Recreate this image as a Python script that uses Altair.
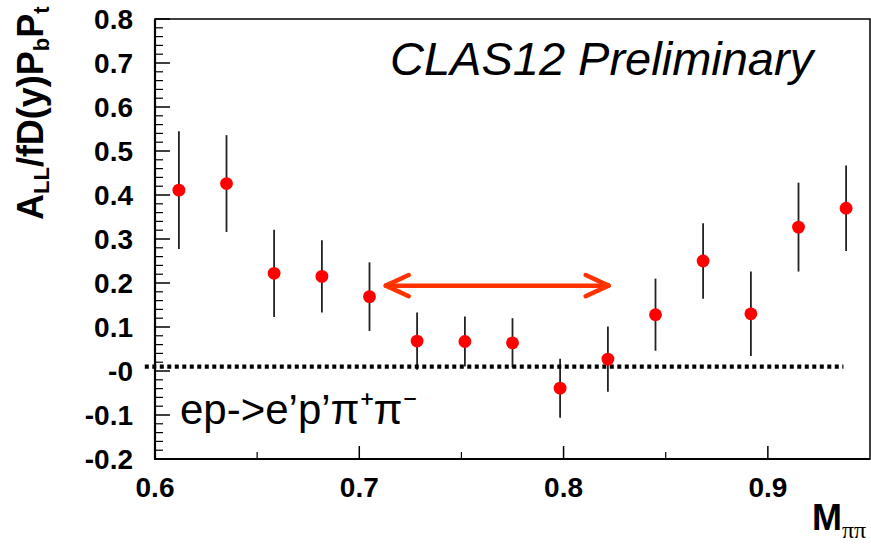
import altair as alt
import pandas as pd

# ---- data ----
m_pipi = [0.6117, 0.6350, 0.6583, 0.6817, 0.7050, 0.7283, 0.7517, 0.7750,
          0.7983, 0.8217, 0.8450, 0.8683, 0.8917, 0.9150, 0.9383]
a_ll = [0.411, 0.426, 0.222, 0.215, 0.169, 0.068, 0.067, 0.064,
        -0.039, 0.027, 0.128, 0.250, 0.130, 0.327, 0.370]
a_err = [0.134, 0.110, 0.099, 0.082, 0.078, 0.065, 0.057, 0.056,
         0.067, 0.074, 0.082, 0.086, 0.096, 0.101, 0.097]

x_ticks = [0.6, 0.7, 0.8, 0.9]
x_tick_labels = ["0.6", "0.7", "0.8", "0.9"]
x_minor = [0.65, 0.75, 0.85]
y_ticks = [-0.2, -0.1, 0.0, 0.1, 0.2, 0.3, 0.4, 0.5, 0.6, 0.7, 0.8]
y_tick_labels = ["-0.2", "-0.1", "-0", "0.1", "0.2", "0.3", "0.4", "0.5", "0.6", "0.7", "0.8"]
y_minor = [round(t + 0.02 * k, 2) for t in y_ticks[:-1] for k in (1, 2, 3, 4)]

zero_line_x = [0.595, 0.937]
zero_line_y = 0.01
arrow_x = [0.713, 0.822]
arrow_y = 0.194
arrow_head = [0.0112, 0.024]

# ---- tables ----
pts = pd.DataFrame({"m": m_pipi, "a": a_ll, "e": a_err})
pts["lo"] = pts["a"] - pts["e"]
pts["hi"] = pts["a"] + pts["e"]

xscale = alt.Scale(domain=[0.6, 0.95], nice=False, zero=False)
yscale = alt.Scale(domain=[-0.2, 0.8], nice=False, zero=False)

W, H = 715, 440
LEFT, TOP = 155, 19

base = alt.Chart(pts)

errbars = base.mark_rule(color="#222222", strokeWidth=1.8).encode(
    x=alt.X("m:Q", scale=xscale, axis=None),
    y=alt.Y("lo:Q", scale=yscale, axis=None),
    y2="hi:Q",
)

points = base.mark_point(filled=True, shape="circle", size=165, color="#ff0000",
                         opacity=1).encode(
    x=alt.X("m:Q", scale=xscale, axis=None),
    y=alt.Y("a:Q", scale=yscale, axis=None),
)

# frame (left / bottom axis lines slightly heavier)
one = pd.DataFrame({"k": [0]})
frame_left = alt.Chart(one).mark_rule(color="black", strokeWidth=2.2).encode(
    x=alt.value(0), y=alt.value(0), y2=alt.value(H))
frame_bottom = alt.Chart(one).mark_rule(color="black", strokeWidth=2.2).encode(
    x=alt.value(-1), x2=alt.value(W), y=alt.value(H))

# inward ticks, ROOT style
ymaj = alt.Chart(pd.DataFrame({"v": y_ticks})).mark_rule(color="black", strokeWidth=1.5).encode(
    y=alt.Y("v:Q", scale=yscale, axis=None), x=alt.value(0), x2=alt.value(15))
ymin = alt.Chart(pd.DataFrame({"v": y_minor})).mark_rule(color="black", strokeWidth=1.2).encode(
    y=alt.Y("v:Q", scale=yscale, axis=None), x=alt.value(0), x2=alt.value(8))
xmaj = alt.Chart(pd.DataFrame({"v": x_ticks})).mark_rule(color="black", strokeWidth=1.5).encode(
    x=alt.X("v:Q", scale=xscale, axis=None), y=alt.value(H), y2=alt.value(H - 13))
xmin = alt.Chart(pd.DataFrame({"v": x_minor})).mark_rule(color="black", strokeWidth=1.2).encode(
    x=alt.X("v:Q", scale=xscale, axis=None), y=alt.value(H), y2=alt.value(H - 7))

# tick labels
ylab = alt.Chart(pd.DataFrame({"v": y_ticks, "t": y_tick_labels})).mark_text(
    align="right", baseline="middle", font="Liberation Sans", fontWeight="bold",
    fontSize=28, color="black", dy=2).encode(
    y=alt.Y("v:Q", scale=yscale, axis=None), x=alt.value(-22), text="t:N")
xlab = alt.Chart(pd.DataFrame({"v": x_ticks, "t": x_tick_labels})).mark_text(
    align="center", baseline="alphabetic", font="Liberation Sans", fontWeight="bold",
    fontSize=28, color="black").encode(
    x=alt.X("v:Q", scale=xscale, axis=None), y=alt.value(497 - TOP), text="t:N")

zero_df = pd.DataFrame({"x0": [zero_line_x[0]], "x1": [zero_line_x[1]], "y": [zero_line_y]})
zero_line = alt.Chart(zero_df).mark_rule(color="black", strokeWidth=4.2, strokeDash=[4, 3.5],
                                         strokeCap="butt").encode(
    x=alt.X("x0:Q", scale=xscale, axis=None), x2="x1:Q",
    y=alt.Y("y:Q", scale=yscale, axis=None))

hx, hy = arrow_head
ax0, ax1 = arrow_x
arrow_df = pd.DataFrame({
    "x0": [ax0, ax0, ax0, ax1, ax1],
    "y0": [arrow_y] * 5,
    "x1": [ax1, ax0 + hx, ax0 + hx, ax1 - hx, ax1 - hx],
    "y1": [arrow_y, arrow_y + hy, arrow_y - hy, arrow_y + hy, arrow_y - hy],
})
arrow = alt.Chart(arrow_df).mark_rule(color="#ff3300", strokeWidth=4.5, strokeCap="round").encode(
    x=alt.X("x0:Q", scale=xscale, axis=None), x2="x1:Q",
    y=alt.Y("y0:Q", scale=yscale, axis=None), y2="y1:Q")


def txt(s, x, y, size, weight="normal", style="normal", font="Liberation Sans", angle=0):
    kw = dict(align="left", baseline="alphabetic", font=font, fontSize=size,
              fontWeight=weight, fontStyle=style, color="black")
    if angle:
        kw["angle"] = angle
    return alt.Chart(one).mark_text(**kw).encode(
        x=alt.value(x - LEFT), y=alt.value(y - TOP), text=alt.value(s))


texts = [
    txt("CLAS12 Preliminary", 390, 75, 47, style="italic"),
    txt("ep->e\u2019p\u2019\u03c0\u207a\u03c0\u207b", 180, 424, 42),
    txt("M", 812, 530, 36, weight="bold"),
    txt("\u03c0\u03c0", 842, 538, 24, font="Liberation Serif"),
]

# rotated y-axis title A_LL/fD(y)P_bP_t (pieces, reading upward)
title_pieces = [("A", 36, 0), ("LL", 22, 1), ("/fD(y)P", 36, 0), ("b", 22, 1), ("P", 36, 0), ("t", 22, 1)]
widths = {"A": 0.722, "LL": 1.222, "/fD(y)P": 3.222, "b": 0.611, "P": 0.667, "t": 0.333}
ypos = 220
for s, size, sub in title_pieces:
    texts.append(txt(s, 49 if sub else 43, ypos, size, weight="bold", angle=270))
    ypos -= widths[s] * size

chart = alt.layer(errbars, ymaj, ymin, xmaj, xmin, frame_left, frame_bottom, ylab, xlab,
                  zero_line, points, arrow, *texts).properties(
    width=W, height=H,
    autosize=alt.AutoSizeParams(type="none"),
    padding={"left": LEFT, "top": TOP, "right": 871 - LEFT - W, "bottom": 544 - TOP - H},
).configure_view(
    stroke="black", strokeWidth=1.5
)

chart.save("out.html", embed_options={"renderer": "svg", "actions": False})
